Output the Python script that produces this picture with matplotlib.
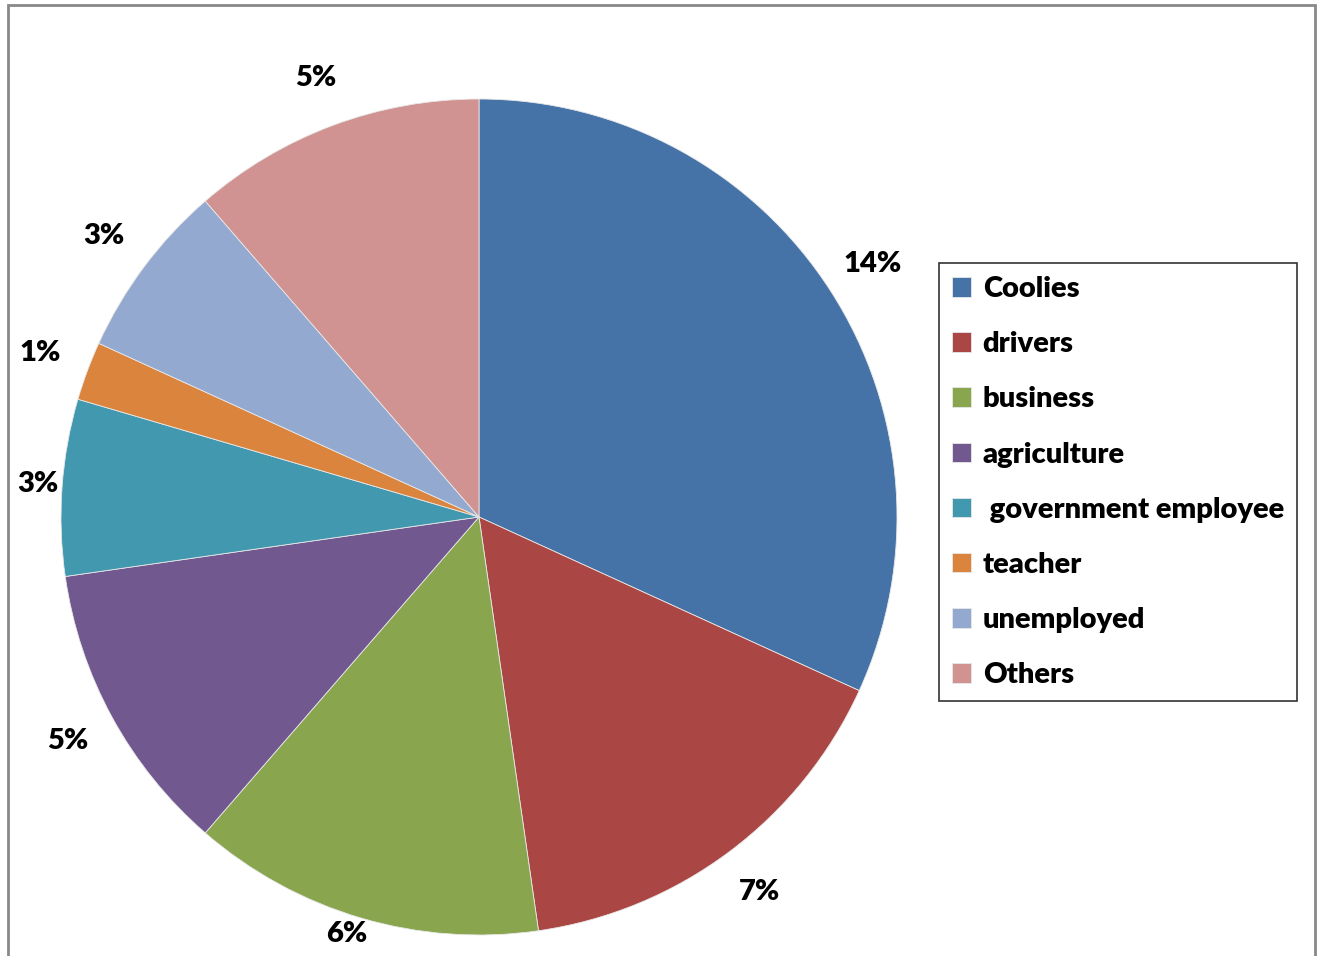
import numpy as np
import matplotlib
matplotlib.use("Agg")
import matplotlib.pyplot as plt
from matplotlib.patches import Rectangle

categories = ["Coolies", "drivers", "business", "agriculture",
              " government employee", "teacher", "unemployed", "Others"]
values = [14, 7, 6, 5, 3, 1, 3, 5]
colors = ["#4572A7", "#AA4643", "#89A54E", "#71588F",
          "#4198AF", "#DB843D", "#93A9CF", "#D19392"]

plt.rcParams['font.family'] = ['Lato', 'DejaVu Sans']

W, H = 1320, 956
fig = plt.figure(figsize=(W / 100, H / 100), dpi=100)

# outer chart frame (bottom edge falls outside the image)
fig.patches.append(Rectangle((8 / W, -0.05), (1315 - 8) / W, 1.05 - 5 / H,
                             transform=fig.transFigure, fill=False,
                             edgecolor="#888888", linewidth=2))

cx, cy, r = 479, 517, 418
ax = fig.add_axes([(cx - r) / W, (H - cy - r) / H, 2 * r / W, 2 * r / H])

labels = [f"{v}%" for v in values]
wedges, texts = ax.pie(values, colors=colors, labels=labels, startangle=90,
                       counterclock=False, labeldistance=1.12, radius=1,
                       wedgeprops=dict(edgecolor="#e8e8e8", linewidth=0.6),
                       textprops=dict(fontsize=21, fontweight="heavy"))
for t in texts:
    t.set_ha("center")
    t.set_va("center")
ax.set_xlim(-1, 1)
ax.set_ylim(-1, 1)
ax.set_aspect("equal")

leg = fig.legend(wedges, categories, loc="upper left",
                 bbox_to_anchor=(939 / W, 1 - 263 / H),
                 prop=dict(size=21, weight="heavy"), frameon=True,
                 fancybox=False, borderpad=0.45, labelspacing=1.0,
                 handlelength=0.65, handleheight=0.65, handletextpad=0.4,
                 borderaxespad=0)
leg.get_frame().set_edgecolor("black")
leg.get_frame().set_linewidth(1.2)

# keep labels inside the chart area, like the original does
fig.canvas.draw()
rend = fig.canvas.get_renderer()
margin = 9
for t in texts:
    bb = t.get_window_extent(rend)
    sx = max(0, 8 + margin - bb.x0)
    sy = max(0, margin - bb.y0)
    if sx or sy:
        x, y = t.get_position()
        t.set_position((x + sx / r, y + sy / r))

fig.savefig("out.png", dpi=100)
